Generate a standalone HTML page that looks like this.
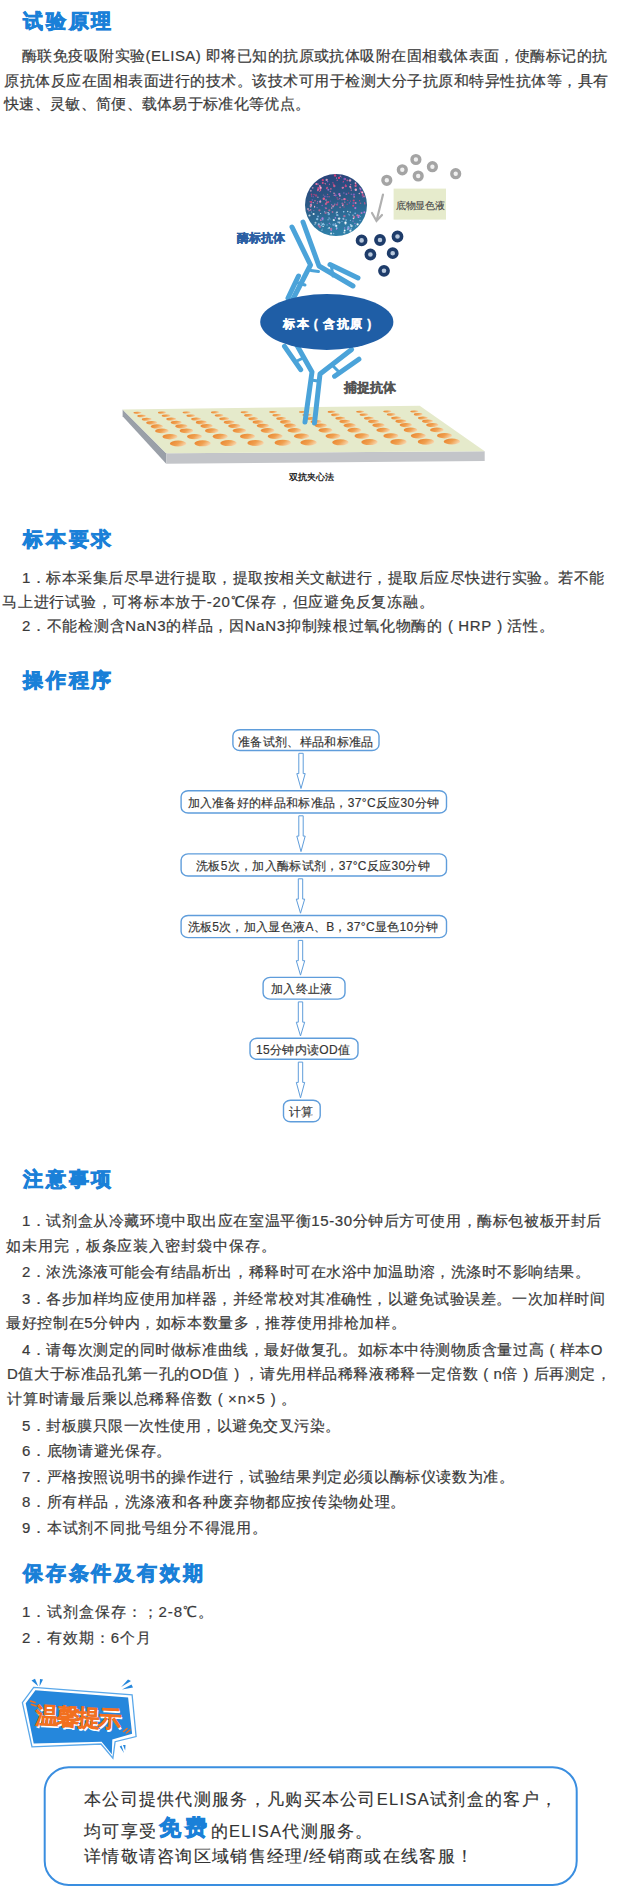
<!DOCTYPE html>
<html><head><meta charset="utf-8">
<style>
*{margin:0;padding:0;box-sizing:border-box}
html,body{width:619px;height:1898px;background:#fff;overflow:hidden}
body{position:relative;font-family:"Liberation Sans",sans-serif;color:#3a3a3a}
.h{position:absolute;left:23px;font-size:20px;letter-spacing:2.8px;font-weight:700;color:#1a80d8;line-height:24px;white-space:nowrap;-webkit-text-stroke:0.8px #1a80d8}
.l{position:absolute;font-size:15px;letter-spacing:0.45px;-webkit-text-stroke:0.2px #3a3a3a;line-height:18px;white-space:nowrap}
.g{position:absolute;left:0;top:0}
.d{position:absolute;white-space:nowrap;line-height:1}
.f{position:absolute;white-space:nowrap;font-size:12px;line-height:14px;color:#333;letter-spacing:0.33px;-webkit-text-stroke:0.15px #333}
.b{position:absolute;left:84px;white-space:nowrap;font-size:16.5px;letter-spacing:1.3px;line-height:20px;color:#333;-webkit-text-stroke:0.15px #333}
.free{font-size:22px;font-weight:700;color:#1a80d8;-webkit-text-stroke:0.9px #1a80d8;letter-spacing:4px;vertical-align:1.5px;margin-left:1.5px}
.p{display:inline-block;width:15.45px;text-align:center;letter-spacing:0}
</style></head><body>
<svg class="g" width="619" height="1898" viewBox="0 0 619 1898">
<defs>
<linearGradient id="well" x1="0" y1="0.3" x2="1" y2="0.7"><stop offset="0" stop-color="#e98630"/><stop offset="0.5" stop-color="#f0a050"/><stop offset="1" stop-color="#f8dcb8"/></linearGradient>
<linearGradient id="sph" x1="0" y1="0" x2="0.2" y2="1"><stop offset="0" stop-color="#2a3f78"/><stop offset="0.5" stop-color="#2b5a86"/><stop offset="1" stop-color="#2f7fa8"/></linearGradient>
</defs>
<!-- plate -->
<polygon points="122.6,409.5 166.2,453.2 166.2,463.8 122.6,416.3" fill="#9aa0a8"/>
<polygon points="166.2,453.2 484.7,451.2 484.7,461 166.2,463.8" fill="#c3c5c9"/>
<polygon points="122.6,409.5 419.7,405.7 484.7,451.2 166.2,453.2" fill="#e5eacb"/>
<g fill="url(#well)"><ellipse cx="137.5" cy="412.8" rx="4.0" ry="1.1"/><ellipse cx="162.0" cy="412.7" rx="4.0" ry="1.1"/><ellipse cx="186.6" cy="412.5" rx="4.0" ry="1.1"/><ellipse cx="215.0" cy="412.4" rx="4.0" ry="1.1"/><ellipse cx="244.7" cy="412.3" rx="4.0" ry="1.1"/><ellipse cx="273.2" cy="412.1" rx="4.0" ry="1.1"/><ellipse cx="303.0" cy="412.0" rx="4.0" ry="1.1"/><ellipse cx="331.7" cy="411.9" rx="4.0" ry="1.1"/><ellipse cx="360.2" cy="411.8" rx="4.0" ry="1.1"/><ellipse cx="387.3" cy="411.6" rx="4.0" ry="1.1"/><ellipse cx="414.4" cy="411.5" rx="4.0" ry="1.1"/><ellipse cx="141.6" cy="416.0" rx="4.4" ry="1.3"/><ellipse cx="166.1" cy="415.8" rx="4.4" ry="1.3"/><ellipse cx="190.8" cy="415.7" rx="4.4" ry="1.3"/><ellipse cx="219.1" cy="415.5" rx="4.4" ry="1.3"/><ellipse cx="248.5" cy="415.4" rx="4.4" ry="1.3"/><ellipse cx="276.8" cy="415.2" rx="4.4" ry="1.3"/><ellipse cx="306.8" cy="415.0" rx="4.4" ry="1.3"/><ellipse cx="335.5" cy="414.9" rx="4.4" ry="1.3"/><ellipse cx="364.0" cy="414.7" rx="4.4" ry="1.3"/><ellipse cx="391.2" cy="414.6" rx="4.4" ry="1.3"/><ellipse cx="418.2" cy="414.4" rx="4.4" ry="1.3"/><ellipse cx="146.7" cy="419.2" rx="4.9" ry="1.5"/><ellipse cx="171.2" cy="419.1" rx="4.9" ry="1.5"/><ellipse cx="196.1" cy="418.9" rx="4.9" ry="1.5"/><ellipse cx="224.2" cy="418.8" rx="4.9" ry="1.5"/><ellipse cx="253.3" cy="418.7" rx="4.9" ry="1.5"/><ellipse cx="281.2" cy="418.5" rx="4.9" ry="1.5"/><ellipse cx="311.5" cy="418.4" rx="4.9" ry="1.5"/><ellipse cx="340.3" cy="418.3" rx="4.9" ry="1.5"/><ellipse cx="368.9" cy="418.2" rx="4.9" ry="1.5"/><ellipse cx="396.1" cy="418.0" rx="4.9" ry="1.5"/><ellipse cx="422.9" cy="417.9" rx="4.9" ry="1.5"/><ellipse cx="151.7" cy="422.7" rx="5.5" ry="1.8"/><ellipse cx="176.2" cy="422.6" rx="5.5" ry="1.8"/><ellipse cx="201.3" cy="422.4" rx="5.5" ry="1.8"/><ellipse cx="229.2" cy="422.2" rx="5.5" ry="1.8"/><ellipse cx="258.1" cy="422.1" rx="5.5" ry="1.8"/><ellipse cx="285.6" cy="421.9" rx="5.5" ry="1.8"/><ellipse cx="316.1" cy="421.8" rx="5.5" ry="1.8"/><ellipse cx="344.9" cy="421.6" rx="5.5" ry="1.8"/><ellipse cx="373.6" cy="421.5" rx="5.5" ry="1.8"/><ellipse cx="400.9" cy="421.3" rx="5.5" ry="1.8"/><ellipse cx="427.5" cy="421.2" rx="5.5" ry="1.8"/><ellipse cx="156.9" cy="426.4" rx="6.2" ry="2.1"/><ellipse cx="181.4" cy="426.3" rx="6.2" ry="2.1"/><ellipse cx="206.6" cy="426.1" rx="6.2" ry="2.1"/><ellipse cx="234.4" cy="426.0" rx="6.2" ry="2.1"/><ellipse cx="262.9" cy="425.8" rx="6.2" ry="2.1"/><ellipse cx="290.1" cy="425.7" rx="6.2" ry="2.1"/><ellipse cx="320.8" cy="425.6" rx="6.2" ry="2.1"/><ellipse cx="349.7" cy="425.4" rx="6.2" ry="2.1"/><ellipse cx="378.5" cy="425.3" rx="6.2" ry="2.1"/><ellipse cx="405.8" cy="425.1" rx="6.2" ry="2.1"/><ellipse cx="432.3" cy="425.0" rx="6.2" ry="2.1"/><ellipse cx="161.9" cy="430.9" rx="6.8" ry="2.4"/><ellipse cx="186.4" cy="430.8" rx="6.8" ry="2.4"/><ellipse cx="211.8" cy="430.7" rx="6.8" ry="2.4"/><ellipse cx="239.4" cy="430.6" rx="6.8" ry="2.4"/><ellipse cx="267.6" cy="430.5" rx="6.8" ry="2.4"/><ellipse cx="294.5" cy="430.4" rx="6.8" ry="2.4"/><ellipse cx="325.5" cy="430.3" rx="6.8" ry="2.4"/><ellipse cx="354.4" cy="430.2" rx="6.8" ry="2.4"/><ellipse cx="383.2" cy="430.1" rx="6.8" ry="2.4"/><ellipse cx="410.5" cy="430.0" rx="6.8" ry="2.4"/><ellipse cx="436.9" cy="429.9" rx="6.8" ry="2.4"/><ellipse cx="170.0" cy="436.7" rx="7.5" ry="2.7"/><ellipse cx="194.5" cy="436.6" rx="7.5" ry="2.7"/><ellipse cx="220.2" cy="436.5" rx="7.5" ry="2.7"/><ellipse cx="247.5" cy="436.4" rx="7.5" ry="2.7"/><ellipse cx="275.2" cy="436.3" rx="7.5" ry="2.7"/><ellipse cx="301.6" cy="436.2" rx="7.5" ry="2.7"/><ellipse cx="333.0" cy="436.1" rx="7.5" ry="2.7"/><ellipse cx="362.0" cy="436.0" rx="7.5" ry="2.7"/><ellipse cx="390.9" cy="435.9" rx="7.5" ry="2.7"/><ellipse cx="418.3" cy="435.8" rx="7.5" ry="2.7"/><ellipse cx="444.5" cy="435.7" rx="7.5" ry="2.7"/><ellipse cx="178.1" cy="443.5" rx="8.2" ry="3.0"/><ellipse cx="202.6" cy="443.3" rx="8.2" ry="3.0"/><ellipse cx="228.5" cy="443.1" rx="8.2" ry="3.0"/><ellipse cx="255.6" cy="442.9" rx="8.2" ry="3.0"/><ellipse cx="282.8" cy="442.7" rx="8.2" ry="3.0"/><ellipse cx="308.6" cy="442.5" rx="8.2" ry="3.0"/><ellipse cx="340.4" cy="442.3" rx="8.2" ry="3.0"/><ellipse cx="369.5" cy="442.1" rx="8.2" ry="3.0"/><ellipse cx="398.5" cy="441.9" rx="8.2" ry="3.0"/><ellipse cx="426.0" cy="441.7" rx="8.2" ry="3.0"/><ellipse cx="451.9" cy="441.5" rx="8.2" ry="3.0"/></g>
<!-- antibodies -->
<g stroke="#4ba3d9" stroke-width="5" stroke-linecap="round" stroke-linejoin="round" fill="none">
<polyline points="292,227 310.5,265 293,299"/>
<polyline points="303,222 319,266 353,286"/>
<line x1="298.5" y1="276" x2="288" y2="298"/>
<line x1="330" y1="264.5" x2="358" y2="278"/>
<line x1="298" y1="283" x2="305" y2="285" stroke-width="3"/>
<line x1="331.5" y1="267" x2="333" y2="276" stroke-width="3"/>
<line x1="311" y1="270.5" x2="318.5" y2="271.5" stroke-width="3"/>
<polyline points="293.4,339 312,372 305,422"/>
<polyline points="351.6,349.5 320,374 314.5,423"/>
<line x1="284.5" y1="346.3" x2="300.7" y2="369.7"/>
<line x1="358.9" y1="359.2" x2="334.6" y2="376.2"/>
<line x1="295" y1="362" x2="303" y2="358" stroke-width="3"/>
<line x1="333" y1="366" x2="339" y2="372" stroke-width="3"/>
<line x1="311" y1="380" x2="318" y2="381" stroke-width="3"/>
</g>
<ellipse cx="326.8" cy="322" rx="66.6" ry="28" fill="#1f5ea6"/>
<!-- sphere -->
<circle cx="336" cy="205" r="31" fill="url(#sph)"/>
<g><circle cx="325.1" cy="183.4" r="0.5" fill="#ffb0d0" opacity="0.9"/><circle cx="310.8" cy="210.1" r="0.7" fill="#e86090" opacity="0.6"/><circle cx="330.9" cy="188.9" r="0.8" fill="#e86090" opacity="0.9"/><circle cx="312.7" cy="187.8" r="0.9" fill="#ffb0d0" opacity="0.6"/><circle cx="341.3" cy="177.1" r="0.5" fill="#d04a8a" opacity="0.9"/><circle cx="323.0" cy="182.9" r="0.9" fill="#e0407a" opacity="0.8"/><circle cx="347.3" cy="180.4" r="0.9" fill="#e86090" opacity="0.7"/><circle cx="339.0" cy="177.9" r="0.9" fill="#e0407a" opacity="0.8"/><circle cx="338.0" cy="222.2" r="0.9" fill="#80b0e0" opacity="0.8"/><circle cx="323.6" cy="223.3" r="0.6" fill="#a0d0f0" opacity="0.7"/><circle cx="335.7" cy="195.3" r="0.7" fill="#b070d0" opacity="1.0"/><circle cx="312.3" cy="199.9" r="0.7" fill="#8060c0" opacity="1.0"/><circle cx="331.1" cy="233.6" r="1.0" fill="#ffffff" opacity="0.8"/><circle cx="359.3" cy="193.5" r="0.7" fill="#ffb0d0" opacity="0.8"/><circle cx="310.8" cy="190.7" r="1.0" fill="#ffb0d0" opacity="0.6"/><circle cx="348.5" cy="214.1" r="0.7" fill="#80b0e0" opacity="0.8"/><circle cx="333.6" cy="184.4" r="0.8" fill="#e0407a" opacity="0.7"/><circle cx="322.8" cy="219.8" r="0.8" fill="#80b0e0" opacity="0.9"/><circle cx="310.0" cy="201.8" r="0.7" fill="#e86090" opacity="0.7"/><circle cx="331.7" cy="208.1" r="0.8" fill="#ffb0d0" opacity="0.7"/><circle cx="319.4" cy="188.5" r="1.1" fill="#b070d0" opacity="0.7"/><circle cx="322.5" cy="183.0" r="0.8" fill="#e86090" opacity="0.8"/><circle cx="337.0" cy="212.3" r="0.8" fill="#ffffff" opacity="0.9"/><circle cx="339.7" cy="198.7" r="0.6" fill="#b070d0" opacity="0.9"/><circle cx="317.9" cy="184.1" r="0.9" fill="#f07ab0" opacity="0.6"/><circle cx="340.1" cy="207.3" r="0.9" fill="#f07ab0" opacity="0.6"/><circle cx="317.9" cy="197.3" r="0.7" fill="#ffb0d0" opacity="0.7"/><circle cx="327.6" cy="181.6" r="0.8" fill="#8060c0" opacity="1.0"/><circle cx="334.8" cy="193.3" r="0.6" fill="#d04a8a" opacity="0.7"/><circle cx="321.4" cy="225.4" r="0.9" fill="#a0d0f0" opacity="0.7"/><circle cx="364.0" cy="196.4" r="0.9" fill="#ffb0d0" opacity="0.6"/><circle cx="358.5" cy="217.2" r="0.9" fill="#c080e0" opacity="1.0"/><circle cx="327.1" cy="187.8" r="1.0" fill="#e86090" opacity="0.7"/><circle cx="318.8" cy="224.3" r="1.1" fill="#a0d0f0" opacity="0.9"/><circle cx="350.9" cy="188.1" r="0.8" fill="#e86090" opacity="0.9"/><circle cx="334.3" cy="186.0" r="1.2" fill="#e86090" opacity="0.8"/><circle cx="364.2" cy="196.6" r="0.6" fill="#d04a8a" opacity="0.8"/><circle cx="325.9" cy="203.9" r="1.1" fill="#e86090" opacity="0.8"/><circle cx="345.5" cy="223.6" r="1.1" fill="#ffffff" opacity="0.6"/><circle cx="329.1" cy="218.1" r="0.8" fill="#a0d0f0" opacity="0.7"/><circle cx="353.9" cy="194.6" r="1.2" fill="#8060c0" opacity="0.9"/><circle cx="333.7" cy="220.1" r="1.0" fill="#ffffff" opacity="0.7"/><circle cx="326.7" cy="208.0" r="0.5" fill="#d04a8a" opacity="0.9"/><circle cx="350.0" cy="180.4" r="1.2" fill="#ffb0d0" opacity="0.8"/><circle cx="318.1" cy="189.6" r="0.9" fill="#f07ab0" opacity="0.9"/><circle cx="325.2" cy="207.7" r="0.6" fill="#8060c0" opacity="1.0"/><circle cx="326.9" cy="202.4" r="1.1" fill="#e86090" opacity="0.8"/><circle cx="336.7" cy="228.1" r="0.9" fill="#a0d0f0" opacity="0.9"/><circle cx="343.4" cy="181.5" r="0.7" fill="#e0407a" opacity="0.8"/><circle cx="339.4" cy="222.6" r="1.1" fill="#ffffff" opacity="0.6"/><circle cx="311.1" cy="202.0" r="1.0" fill="#e0407a" opacity="1.0"/><circle cx="332.5" cy="212.0" r="0.9" fill="#e070a0" opacity="0.7"/><circle cx="322.2" cy="205.5" r="0.8" fill="#8060c0" opacity="1.0"/><circle cx="348.4" cy="228.3" r="1.1" fill="#c080e0" opacity="1.0"/><circle cx="317.6" cy="201.7" r="0.6" fill="#b070d0" opacity="0.8"/><circle cx="309.5" cy="215.5" r="1.1" fill="#ffffff" opacity="0.7"/><circle cx="349.4" cy="214.9" r="0.7" fill="#a0d0f0" opacity="0.7"/><circle cx="334.0" cy="220.3" r="0.8" fill="#ffffff" opacity="0.8"/><circle cx="315.0" cy="200.8" r="0.8" fill="#e86090" opacity="0.8"/><circle cx="327.1" cy="179.7" r="0.5" fill="#f07ab0" opacity="0.8"/><circle cx="325.6" cy="212.7" r="1.2" fill="#e070a0" opacity="0.6"/><circle cx="321.9" cy="230.2" r="0.7" fill="#a0d0f0" opacity="0.7"/><circle cx="331.2" cy="230.5" r="0.8" fill="#c080e0" opacity="0.8"/><circle cx="336.9" cy="204.7" r="0.6" fill="#f07ab0" opacity="0.6"/><circle cx="347.7" cy="200.4" r="0.7" fill="#e0407a" opacity="0.6"/><circle cx="342.7" cy="187.8" r="1.1" fill="#f07ab0" opacity="0.8"/><circle cx="326.0" cy="208.3" r="0.9" fill="#f07ab0" opacity="0.6"/><circle cx="344.0" cy="206.9" r="0.7" fill="#d04a8a" opacity="0.8"/><circle cx="316.0" cy="195.5" r="1.2" fill="#e0407a" opacity="0.6"/><circle cx="320.2" cy="201.7" r="1.1" fill="#ffb0d0" opacity="0.8"/><circle cx="335.7" cy="225.7" r="1.2" fill="#80b0e0" opacity="0.7"/><circle cx="318.3" cy="188.2" r="1.1" fill="#d04a8a" opacity="0.9"/><circle cx="344.4" cy="199.1" r="1.2" fill="#f07ab0" opacity="0.9"/><circle cx="359.6" cy="200.7" r="0.6" fill="#e0407a" opacity="0.9"/><circle cx="359.0" cy="215.6" r="0.9" fill="#c080e0" opacity="0.9"/><circle cx="327.6" cy="194.4" r="0.7" fill="#e86090" opacity="0.6"/><circle cx="359.7" cy="187.5" r="0.5" fill="#d04a8a" opacity="0.8"/><circle cx="334.4" cy="205.2" r="0.7" fill="#d04a8a" opacity="0.9"/><circle cx="313.9" cy="210.4" r="0.5" fill="#b070d0" opacity="0.7"/><circle cx="319.4" cy="210.3" r="1.1" fill="#e86090" opacity="0.7"/><circle cx="342.0" cy="221.4" r="0.6" fill="#80b0e0" opacity="0.9"/><circle cx="343.9" cy="219.5" r="0.6" fill="#e070a0" opacity="0.8"/><circle cx="336.3" cy="225.8" r="1.1" fill="#ffffff" opacity="0.8"/><circle cx="360.4" cy="216.3" r="0.6" fill="#a0d0f0" opacity="0.6"/><circle cx="328.4" cy="202.0" r="0.9" fill="#e0407a" opacity="0.9"/><circle cx="347.2" cy="204.3" r="0.8" fill="#e0407a" opacity="0.6"/><circle cx="310.7" cy="206.6" r="1.0" fill="#ffb0d0" opacity="0.7"/><circle cx="350.2" cy="186.7" r="1.0" fill="#ffb0d0" opacity="0.8"/><circle cx="361.4" cy="191.8" r="0.9" fill="#e0407a" opacity="0.9"/><circle cx="320.7" cy="220.1" r="0.9" fill="#c080e0" opacity="0.7"/><circle cx="334.9" cy="204.1" r="0.6" fill="#ffb0d0" opacity="0.7"/><circle cx="335.4" cy="217.9" r="0.8" fill="#c080e0" opacity="0.8"/><circle cx="333.5" cy="224.8" r="1.2" fill="#80b0e0" opacity="0.8"/><circle cx="351.3" cy="190.2" r="0.6" fill="#f07ab0" opacity="0.9"/><circle cx="336.5" cy="229.0" r="0.7" fill="#c080e0" opacity="1.0"/><circle cx="335.1" cy="175.5" r="1.2" fill="#e0407a" opacity="0.9"/><circle cx="330.1" cy="219.1" r="0.7" fill="#80b0e0" opacity="0.7"/><circle cx="351.5" cy="226.0" r="1.2" fill="#ffffff" opacity="0.7"/><circle cx="329.2" cy="227.9" r="0.8" fill="#ffffff" opacity="0.8"/><circle cx="320.5" cy="190.5" r="0.7" fill="#e86090" opacity="0.9"/><circle cx="353.7" cy="200.5" r="1.1" fill="#e0407a" opacity="0.9"/><circle cx="339.1" cy="218.6" r="1.2" fill="#ffffff" opacity="0.8"/><circle cx="343.1" cy="182.6" r="0.7" fill="#8060c0" opacity="0.6"/><circle cx="334.3" cy="195.3" r="0.7" fill="#f07ab0" opacity="0.9"/><circle cx="345.5" cy="199.2" r="0.7" fill="#d04a8a" opacity="0.8"/><circle cx="329.5" cy="184.4" r="0.6" fill="#d04a8a" opacity="0.8"/><circle cx="355.3" cy="208.1" r="1.1" fill="#b070d0" opacity="1.0"/><circle cx="332.9" cy="182.7" r="0.7" fill="#d04a8a" opacity="0.7"/><circle cx="339.5" cy="193.8" r="0.7" fill="#f07ab0" opacity="0.8"/><circle cx="360.0" cy="220.5" r="0.8" fill="#80b0e0" opacity="0.9"/><circle cx="318.0" cy="190.8" r="0.5" fill="#8060c0" opacity="0.7"/><circle cx="336.2" cy="213.0" r="0.6" fill="#a0d0f0" opacity="1.0"/><circle cx="328.8" cy="214.0" r="1.2" fill="#80b0e0" opacity="0.9"/><circle cx="360.5" cy="203.3" r="0.8" fill="#e86090" opacity="0.6"/><circle cx="337.7" cy="203.0" r="0.7" fill="#b070d0" opacity="0.6"/><circle cx="314.6" cy="206.4" r="0.6" fill="#ffb0d0" opacity="0.9"/><circle cx="348.5" cy="226.5" r="0.6" fill="#80b0e0" opacity="0.9"/><circle cx="340.3" cy="176.3" r="0.7" fill="#ffb0d0" opacity="0.7"/><circle cx="320.6" cy="213.5" r="0.6" fill="#ffffff" opacity="0.7"/><circle cx="321.2" cy="223.0" r="0.5" fill="#ffffff" opacity="0.7"/><circle cx="333.6" cy="233.5" r="0.8" fill="#a0d0f0" opacity="0.7"/><circle cx="348.7" cy="193.1" r="0.6" fill="#e0407a" opacity="1.0"/><circle cx="345.1" cy="179.0" r="1.0" fill="#d04a8a" opacity="1.0"/><circle cx="326.0" cy="200.1" r="0.8" fill="#ffb0d0" opacity="0.6"/><circle cx="323.1" cy="226.4" r="0.6" fill="#ffffff" opacity="1.0"/><circle cx="324.3" cy="224.8" r="0.8" fill="#a0d0f0" opacity="0.7"/><circle cx="343.7" cy="211.8" r="0.8" fill="#a0d0f0" opacity="1.0"/><circle cx="308.5" cy="210.9" r="0.5" fill="#b070d0" opacity="0.6"/><circle cx="342.0" cy="199.8" r="0.5" fill="#ffb0d0" opacity="0.8"/><circle cx="362.8" cy="194.4" r="1.0" fill="#d04a8a" opacity="0.8"/><circle cx="334.0" cy="193.3" r="0.8" fill="#ffb0d0" opacity="0.7"/><circle cx="325.6" cy="184.5" r="0.6" fill="#e0407a" opacity="0.6"/><circle cx="331.1" cy="228.9" r="1.2" fill="#e070a0" opacity="0.7"/><circle cx="327.1" cy="224.9" r="0.6" fill="#80b0e0" opacity="0.9"/><circle cx="317.1" cy="207.6" r="0.6" fill="#b070d0" opacity="0.7"/><circle cx="330.5" cy="224.3" r="0.5" fill="#80b0e0" opacity="0.6"/><circle cx="320.9" cy="220.3" r="0.7" fill="#e070a0" opacity="0.7"/><circle cx="364.4" cy="212.3" r="1.0" fill="#c080e0" opacity="0.9"/><circle cx="362.3" cy="192.4" r="1.0" fill="#ffb0d0" opacity="1.0"/><circle cx="344.3" cy="232.5" r="1.1" fill="#ffffff" opacity="0.6"/><circle cx="349.4" cy="202.9" r="0.8" fill="#8060c0" opacity="0.7"/><circle cx="331.7" cy="204.6" r="0.6" fill="#b070d0" opacity="0.9"/><circle cx="350.8" cy="225.0" r="0.9" fill="#a0d0f0" opacity="0.7"/><circle cx="324.8" cy="196.4" r="0.9" fill="#8060c0" opacity="0.8"/><circle cx="329.3" cy="183.9" r="0.5" fill="#b070d0" opacity="0.6"/><circle cx="339.3" cy="194.2" r="1.1" fill="#b070d0" opacity="1.0"/><circle cx="311.0" cy="204.9" r="1.2" fill="#ffb0d0" opacity="0.7"/><circle cx="313.2" cy="202.6" r="0.7" fill="#ffb0d0" opacity="0.8"/><circle cx="353.0" cy="221.1" r="0.7" fill="#c080e0" opacity="0.8"/><circle cx="328.1" cy="219.8" r="0.8" fill="#a0d0f0" opacity="0.7"/><circle cx="319.6" cy="191.4" r="0.6" fill="#e86090" opacity="0.6"/><circle cx="320.6" cy="189.2" r="0.7" fill="#e86090" opacity="0.9"/><circle cx="311.3" cy="203.4" r="0.7" fill="#8060c0" opacity="0.8"/><circle cx="328.2" cy="228.4" r="0.6" fill="#a0d0f0" opacity="0.7"/><circle cx="362.7" cy="197.1" r="0.6" fill="#8060c0" opacity="0.8"/><circle cx="353.0" cy="215.2" r="0.6" fill="#ffffff" opacity="0.8"/><circle cx="343.4" cy="187.5" r="0.7" fill="#f07ab0" opacity="0.6"/><circle cx="350.4" cy="230.7" r="1.1" fill="#ffffff" opacity="0.8"/><circle cx="328.1" cy="212.5" r="0.6" fill="#ffffff" opacity="0.9"/><circle cx="339.0" cy="177.9" r="1.1" fill="#e0407a" opacity="0.9"/><circle cx="314.6" cy="207.1" r="0.6" fill="#ffb0d0" opacity="0.9"/><circle cx="330.4" cy="191.6" r="0.8" fill="#f07ab0" opacity="0.6"/><circle cx="351.2" cy="228.8" r="0.8" fill="#80b0e0" opacity="0.9"/><circle cx="317.2" cy="219.1" r="1.2" fill="#a0d0f0" opacity="0.8"/><circle cx="310.6" cy="209.8" r="0.8" fill="#f07ab0" opacity="0.7"/><circle cx="344.7" cy="230.4" r="0.9" fill="#ffffff" opacity="1.0"/><circle cx="350.7" cy="184.6" r="0.7" fill="#f07ab0" opacity="0.8"/><circle cx="335.4" cy="223.9" r="0.7" fill="#a0d0f0" opacity="0.9"/><circle cx="324.5" cy="211.7" r="0.6" fill="#80b0e0" opacity="0.9"/><circle cx="347.7" cy="229.3" r="0.9" fill="#a0d0f0" opacity="0.8"/><circle cx="317.2" cy="203.3" r="0.7" fill="#e86090" opacity="0.8"/><circle cx="337.1" cy="197.8" r="0.6" fill="#e0407a" opacity="1.0"/><circle cx="355.6" cy="185.9" r="1.1" fill="#e86090" opacity="0.9"/><circle cx="346.4" cy="194.1" r="0.9" fill="#b070d0" opacity="0.8"/><circle cx="343.9" cy="193.0" r="0.7" fill="#b070d0" opacity="0.7"/><circle cx="329.1" cy="196.8" r="0.8" fill="#e86090" opacity="0.6"/><circle cx="343.4" cy="204.3" r="0.8" fill="#d04a8a" opacity="0.8"/><circle cx="355.8" cy="225.9" r="0.8" fill="#80b0e0" opacity="0.6"/><circle cx="327.2" cy="196.7" r="0.8" fill="#8060c0" opacity="0.8"/><circle cx="353.2" cy="205.7" r="1.0" fill="#e0407a" opacity="1.0"/><circle cx="345.5" cy="222.6" r="1.1" fill="#ffffff" opacity="1.0"/><circle cx="350.4" cy="224.5" r="0.6" fill="#a0d0f0" opacity="1.0"/><circle cx="322.8" cy="224.3" r="1.0" fill="#a0d0f0" opacity="0.9"/><circle cx="318.7" cy="225.6" r="1.0" fill="#e070a0" opacity="0.7"/><circle cx="360.6" cy="191.0" r="0.8" fill="#8060c0" opacity="0.7"/><circle cx="364.8" cy="203.8" r="0.7" fill="#e86090" opacity="0.8"/><circle cx="316.3" cy="184.0" r="1.0" fill="#f07ab0" opacity="1.0"/><circle cx="315.5" cy="222.7" r="1.0" fill="#ffffff" opacity="0.6"/><circle cx="333.1" cy="206.3" r="1.1" fill="#ffb0d0" opacity="0.6"/><circle cx="329.4" cy="223.5" r="0.8" fill="#c080e0" opacity="0.7"/><circle cx="314.1" cy="194.5" r="0.8" fill="#e0407a" opacity="0.7"/><circle cx="355.8" cy="189.7" r="1.2" fill="#ffb0d0" opacity="0.9"/><circle cx="350.4" cy="220.3" r="0.6" fill="#a0d0f0" opacity="0.8"/><circle cx="331.8" cy="205.8" r="0.6" fill="#e0407a" opacity="0.7"/><circle cx="311.6" cy="196.1" r="0.8" fill="#d04a8a" opacity="0.7"/><circle cx="313.3" cy="196.7" r="0.8" fill="#8060c0" opacity="0.7"/><circle cx="344.6" cy="228.0" r="0.8" fill="#c080e0" opacity="0.7"/><circle cx="339.9" cy="195.7" r="0.9" fill="#ffb0d0" opacity="0.8"/><circle cx="337.1" cy="204.6" r="1.1" fill="#d04a8a" opacity="0.6"/><circle cx="338.0" cy="199.2" r="0.6" fill="#d04a8a" opacity="1.0"/><circle cx="311.5" cy="212.0" r="0.6" fill="#a0d0f0" opacity="0.7"/><circle cx="342.7" cy="205.4" r="0.8" fill="#ffb0d0" opacity="0.8"/><circle cx="336.5" cy="178.0" r="0.5" fill="#ffb0d0" opacity="1.0"/><circle cx="353.5" cy="218.4" r="0.8" fill="#ffffff" opacity="0.8"/><circle cx="345.6" cy="184.9" r="0.7" fill="#e0407a" opacity="0.9"/><circle cx="344.4" cy="216.1" r="1.2" fill="#e070a0" opacity="0.7"/><circle cx="310.3" cy="205.5" r="0.7" fill="#d04a8a" opacity="0.7"/><circle cx="351.3" cy="194.3" r="0.7" fill="#b070d0" opacity="0.7"/><circle cx="361.3" cy="213.1" r="0.8" fill="#e070a0" opacity="0.9"/><circle cx="348.3" cy="227.2" r="1.2" fill="#80b0e0" opacity="0.7"/><circle cx="329.3" cy="210.3" r="1.1" fill="#e86090" opacity="0.7"/><circle cx="362.6" cy="195.4" r="1.0" fill="#d04a8a" opacity="0.6"/><circle cx="313.6" cy="213.9" r="1.0" fill="#ffffff" opacity="0.9"/><circle cx="309.1" cy="210.6" r="0.6" fill="#f07ab0" opacity="1.0"/><circle cx="338.1" cy="215.2" r="0.6" fill="#80b0e0" opacity="0.7"/><circle cx="357.6" cy="224.3" r="1.1" fill="#ffffff" opacity="0.9"/><circle cx="322.8" cy="180.2" r="1.1" fill="#e0407a" opacity="0.9"/><circle cx="323.3" cy="194.9" r="0.5" fill="#f07ab0" opacity="0.7"/><circle cx="322.5" cy="218.4" r="1.1" fill="#c080e0" opacity="0.9"/><circle cx="342.3" cy="203.5" r="0.9" fill="#f07ab0" opacity="0.6"/><circle cx="330.6" cy="201.1" r="0.6" fill="#8060c0" opacity="0.8"/><circle cx="308.0" cy="209.1" r="1.1" fill="#ffb0d0" opacity="0.6"/><circle cx="355.8" cy="184.6" r="0.9" fill="#e0407a" opacity="0.7"/><circle cx="326.6" cy="179.9" r="1.1" fill="#ffb0d0" opacity="0.7"/><circle cx="335.7" cy="195.5" r="0.9" fill="#8060c0" opacity="0.8"/><circle cx="314.9" cy="224.5" r="0.8" fill="#a0d0f0" opacity="0.6"/><circle cx="344.5" cy="179.0" r="1.2" fill="#8060c0" opacity="0.8"/><circle cx="311.5" cy="194.3" r="0.8" fill="#e0407a" opacity="0.8"/><circle cx="317.8" cy="190.3" r="0.9" fill="#e86090" opacity="0.8"/><circle cx="359.8" cy="188.5" r="0.6" fill="#b070d0" opacity="0.8"/><circle cx="347.7" cy="211.5" r="0.7" fill="#ffffff" opacity="0.7"/><circle cx="346.1" cy="220.0" r="0.8" fill="#a0d0f0" opacity="0.9"/><circle cx="320.9" cy="188.3" r="0.8" fill="#f07ab0" opacity="1.0"/><circle cx="319.8" cy="185.9" r="1.0" fill="#f07ab0" opacity="0.9"/><circle cx="343.3" cy="218.8" r="1.0" fill="#a0d0f0" opacity="0.8"/><circle cx="326.6" cy="188.6" r="0.7" fill="#d04a8a" opacity="1.0"/><circle cx="345.8" cy="186.1" r="1.2" fill="#d04a8a" opacity="0.9"/><circle cx="350.5" cy="201.0" r="0.6" fill="#d04a8a" opacity="1.0"/><circle cx="322.4" cy="228.9" r="0.5" fill="#80b0e0" opacity="0.8"/><circle cx="354.0" cy="217.0" r="1.2" fill="#e070a0" opacity="0.7"/><circle cx="320.0" cy="226.9" r="0.9" fill="#e070a0" opacity="0.9"/><circle cx="357.5" cy="215.4" r="1.1" fill="#e070a0" opacity="0.9"/><circle cx="344.8" cy="202.1" r="0.7" fill="#f07ab0" opacity="0.9"/><circle cx="360.5" cy="189.0" r="1.0" fill="#b070d0" opacity="0.9"/><circle cx="320.5" cy="200.3" r="0.5" fill="#b070d0" opacity="0.9"/><circle cx="337.1" cy="215.0" r="1.1" fill="#a0d0f0" opacity="0.7"/><circle cx="320.6" cy="187.5" r="1.0" fill="#ffb0d0" opacity="1.0"/><circle cx="337.2" cy="180.3" r="0.8" fill="#e86090" opacity="0.7"/><circle cx="354.1" cy="196.9" r="0.8" fill="#f07ab0" opacity="1.0"/><circle cx="318.0" cy="216.4" r="0.9" fill="#80b0e0" opacity="1.0"/><circle cx="350.2" cy="212.1" r="0.7" fill="#ffffff" opacity="0.8"/><circle cx="361.8" cy="213.0" r="0.9" fill="#c080e0" opacity="0.6"/><circle cx="323.8" cy="198.8" r="1.2" fill="#e86090" opacity="1.0"/><circle cx="364.6" cy="202.7" r="0.6" fill="#d04a8a" opacity="0.9"/><circle cx="355.2" cy="213.3" r="0.9" fill="#80b0e0" opacity="0.9"/><circle cx="355.5" cy="183.1" r="0.9" fill="#ffb0d0" opacity="0.9"/><circle cx="355.6" cy="203.0" r="1.0" fill="#f07ab0" opacity="0.9"/><circle cx="353.4" cy="203.1" r="1.1" fill="#8060c0" opacity="0.7"/><circle cx="328.3" cy="189.7" r="1.0" fill="#b070d0" opacity="0.8"/><circle cx="354.9" cy="223.5" r="0.7" fill="#c080e0" opacity="0.7"/></g>
<!-- gray rings -->
<g fill="#f0f0f0" stroke="#a4a4a4" stroke-width="3.4">
<circle cx="386.8" cy="180.3" r="3.9"/><circle cx="402.3" cy="169.8" r="3.9"/><circle cx="415.9" cy="159.5" r="3.9"/><circle cx="418.2" cy="176" r="3.9"/><circle cx="432.4" cy="166.7" r="3.9"/><circle cx="455.7" cy="173.7" r="3.9"/>
</g>
<g fill="#b8c8dc" stroke="#1e3c6a" stroke-width="3.6">
<circle cx="361.6" cy="240.4" r="4.1"/><circle cx="380" cy="240" r="4.1"/><circle cx="397.5" cy="236.5" r="4.1"/><circle cx="370.4" cy="254.5" r="4.1"/><circle cx="392.7" cy="253.2" r="4.1"/><circle cx="384" cy="270.8" r="4.1"/>
</g>
<rect x="393.6" y="188.6" width="52.4" height="31" fill="#e6ebcc"/>
<g stroke="#b0b0b0" stroke-width="2.2" fill="none" stroke-linecap="round"><line x1="383" y1="194.5" x2="377" y2="219"/><polyline points="372,213 376.5,221 382,215"/></g>
</svg>
<div class="d" style="left:237px;top:232.5px;font-size:11.5px;font-weight:700;color:#2b5fa3;-webkit-text-stroke:0.4px #2b5fa3">酶标抗体</div>
<div class="d" style="left:283px;top:318px;font-size:12px;font-weight:700;color:#fff;letter-spacing:1.5px;-webkit-text-stroke:0.3px #fff">标本<span style="display:inline-block;width:13px;text-align:center">(</span>含抗原<span style="display:inline-block;width:13px;text-align:center">)</span></div>
<div class="d" style="left:344px;top:382px;font-size:12.5px;font-weight:700;color:#555;-webkit-text-stroke:0.3px #555">捕捉抗体</div>
<div class="d" style="left:396px;top:200.5px;font-size:10px;letter-spacing:-0.3px;color:#4a4a4a;-webkit-text-stroke:0.15px #4a4a4a">底物显色液</div>
<div class="d" style="left:289px;top:472.5px;font-size:8.5px;font-weight:700;color:#222">双抗夹心法</div>
<div class="h" style="top:9px">试验原理</div>
<div class="l" style="top:47px;left:22px;letter-spacing:0.450px">酶联免疫吸附实验(ELISA) 即将已知的抗原或抗体吸附在固相载体表面，使酶标记的抗</div>
<div class="l" style="top:72px;left:4px;letter-spacing:0.503px">原抗体反应在固相表面进行的技术。该技术可用于检测大分子抗原和特异性抗体等，具有</div>
<div class="l" style="top:95px;left:4px;letter-spacing:0.318px">快速、灵敏、简便、载体易于标准化等优点。</div>

<div class="h" style="top:527px">标本要求</div>
<div class="l" style="top:569px;left:22px;letter-spacing:0.515px">1．标本采集后尽早进行提取，提取按相关文献进行，提取后应尽快进行实验。若不能</div>
<div class="l" style="top:593px;left:2px;letter-spacing:0.750px">马上进行试验，可将标本放于-20℃保存，但应避免反复冻融。</div>
<div class="l" style="top:617px;left:22px;letter-spacing:0.693px">2．不能检测含NaN3的样品，因NaN3抑制辣根过氧化物酶的<span class="p">(</span>HRP<span class="p">)</span>活性。</div>

<div class="h" style="top:668px">操作程序</div>

<svg class="g" width="619" height="1898" viewBox="0 0 619 1898"><g fill="#fff" stroke="#5f9ddb" stroke-width="1.4"><rect x="232.9" y="729.8" width="146.1" height="20.7" rx="7" ry="6"/><rect x="181.1" y="790.8" width="265.4" height="22.2" rx="7" ry="6"/><rect x="181.1" y="853.9" width="265.4" height="22.1" rx="7" ry="6"/><rect x="181.1" y="915.5" width="265.4" height="22.1" rx="7" ry="6"/><rect x="263.1" y="977.4" width="81.9" height="21.7" rx="7" ry="6"/><rect x="250.0" y="1038.3" width="108.0" height="21.0" rx="7" ry="6"/><rect x="283.5" y="1100.2" width="36.7" height="21.6" rx="7" ry="6"/><polygon stroke-width="1" stroke-linejoin="round" points="298.8,753.3 303.2,753.3 303.2,773.6 305.2,773.6 301.0,788.5 296.8,773.6 298.8,773.6"/><polygon stroke-width="1" stroke-linejoin="round" points="298.8,815.8 303.2,815.8 303.2,836.1 305.2,836.1 301.0,851.6 296.8,836.1 298.8,836.1"/><polygon stroke-width="1" stroke-linejoin="round" points="298.3,878.8 302.7,878.8 302.7,899.1 304.7,899.1 300.5,913.2 296.3,899.1 298.3,899.1"/><polygon stroke-width="1" stroke-linejoin="round" points="298.3,940.4 302.7,940.4 302.7,960.7 304.7,960.7 300.5,975.1 296.3,960.7 298.3,960.7"/><polygon stroke-width="1" stroke-linejoin="round" points="298.3,1001.9 302.7,1001.9 302.7,1022.2 304.7,1022.2 300.5,1036.0 296.3,1022.2 298.3,1022.2"/><polygon stroke-width="1" stroke-linejoin="round" points="298.3,1062.1 302.7,1062.1 302.7,1082.4 304.7,1082.4 300.5,1097.9 296.3,1082.4 298.3,1082.4"/></g></svg>
<div class="f" style="left:238px;top:734.7px">准备试剂、样品和标准品</div><div class="f" style="left:187.5px;top:795.7px">加入准备好的样品和标准品，37°C反应30分钟</div><div class="f" style="left:196px;top:858.7px">洗板5次，加入酶标试剂，37°C反应30分钟</div><div class="f" style="left:187.5px;top:920.2px">洗板5次，加入显色液A、B，37°C显色10分钟</div><div class="f" style="left:271px;top:982.2px">加入终止液</div><div class="f" style="left:256px;top:1043.2px">15分钟内读OD值</div><div class="f" style="left:289px;top:1105.2px">计算</div>
<div class="h" style="top:1167px">注意事项</div>
<div class="l" style="top:1212px;left:22px;letter-spacing:0.578px">1．试剂盒从冷藏环境中取出应在室温平衡15-30分钟后方可使用，酶标包被板开封后</div>
<div class="l" style="top:1237px;left:6px;letter-spacing:0.925px">如未用完，板条应装入密封袋中保存。</div>
<div class="l" style="top:1263px;left:22px;letter-spacing:0.547px">2．浓洗涤液可能会有结晶析出，稀释时可在水浴中加温助溶，洗涤时不影响结果。</div>
<div class="l" style="top:1290px;left:22px;letter-spacing:0.520px">3．各步加样均应使用加样器，并经常校对其准确性，以避免试验误差。一次加样时间</div>
<div class="l" style="top:1314px;left:6px;letter-spacing:0.650px">最好控制在5分钟内，如标本数量多，推荐使用排枪加样。</div>
<div class="l" style="top:1341px;left:22px;letter-spacing:0.553px">4．请每次测定的同时做标准曲线，最好做复孔。如标本中待测物质含量过高<span class="p">(</span>样本O</div>
<div class="l" style="top:1365px;left:7px;letter-spacing:0.578px">D值大于标准品孔第一孔的OD值<span class="p">)</span>，请先用样品稀释液稀释一定倍数<span class="p">(</span>n倍<span class="p">)</span>后再测定，</div>
<div class="l" style="top:1390px;left:7px;letter-spacing:0.818px">计算时请最后乘以总稀释倍数<span class="p">(</span>×n×5<span class="p">)</span>。</div>
<div class="l" style="top:1417px;left:22px;letter-spacing:0.500px">5．封板膜只限一次性使用，以避免交叉污染。</div>
<div class="l" style="top:1442px;left:22px;letter-spacing:0.672px">6．底物请避光保存。</div>
<div class="l" style="top:1468px;left:22px;letter-spacing:0.595px">7．严格按照说明书的操作进行，试验结果判定必须以酶标仪读数为准。</div>
<div class="l" style="top:1493px;left:22px;letter-spacing:0.617px">8．所有样品，洗涤液和各种废弃物都应按传染物处理。</div>
<div class="l" style="top:1519px;left:22px;letter-spacing:0.770px">9．本试剂不同批号组分不得混用。</div>

<div class="h" style="top:1561px">保存条件及有效期</div>
<div class="l" style="top:1603px;left:22px;letter-spacing:0.912px">1．试剂盒保存：；2-8℃。</div>
<div class="l" style="top:1629px;left:22px;letter-spacing:0.887px">2．有效期：6个月</div>

<svg class="g" width="619" height="1898" viewBox="0 0 619 1898">
<polygon points="33.7,1687.4 132.1,1694.8 136.1,1736.6 115.1,1741.7 112.9,1758.1 101,1744 32,1746.8 22.4,1702.7" fill="none" stroke="#5aa8ea" stroke-width="1.3"/>
<polygon points="35.4,1690.3 128.1,1697.6 132.1,1733.8 112.3,1739.5 111.8,1754.2 101.6,1741.7 33.7,1743.4 25.7,1703.3" fill="#2587dc"/>
<g fill="#2587dc">
<polygon points="31.5,1680.5 35,1678.8 38.2,1686.2"/><polygon points="40,1679 43,1679.5 39.5,1686.5"/>
<polygon points="121.2,1687 128,1679.5 131,1681"/><polygon points="122,1689.5 131.5,1684.5 133,1687.5"/>
<polygon points="119.7,1746.5 121.5,1745.5 124,1753"/><polygon points="123,1745 125.5,1745 125.2,1750.5"/>
</g>
<rect x="44.7" y="1767.2" width="532" height="117.8" rx="24" ry="24" fill="none" stroke="#3a8ee0" stroke-width="2"/>
</svg>
<div class="d" style="left:35px;top:1704px;font-size:23px;font-weight:700;color:#f2701f;-webkit-text-stroke:0.4px #f2701f;text-shadow:1.2px 1.5px 0 #fff;letter-spacing:-1.8px;transform:rotate(3deg);transform-origin:0 50%">温馨提示</div>
<svg class="g" width="619" height="1898" viewBox="0 0 619 1898"><g stroke="#f2701f" stroke-width="1.6" stroke-linecap="round"><line x1="30.5" y1="1701" x2="35" y2="1702.5"/><line x1="31.5" y1="1704.5" x2="36" y2="1706"/><line x1="123.5" y1="1731.5" x2="127" y2="1728.5"/><line x1="126.5" y1="1733" x2="130" y2="1730"/></g></svg>
<div class="b" style="top:1789px">本公司提供代测服务，凡购买本公司ELISA试剂盒的客户，</div>
<div class="b" style="top:1817.5px">均可享受<span class="free">免费</span>的ELISA代测服务。</div>
<div class="b" style="top:1846px">详情敬请咨询区域销售经理/经销商或在线客服！</div>
</body></html>
